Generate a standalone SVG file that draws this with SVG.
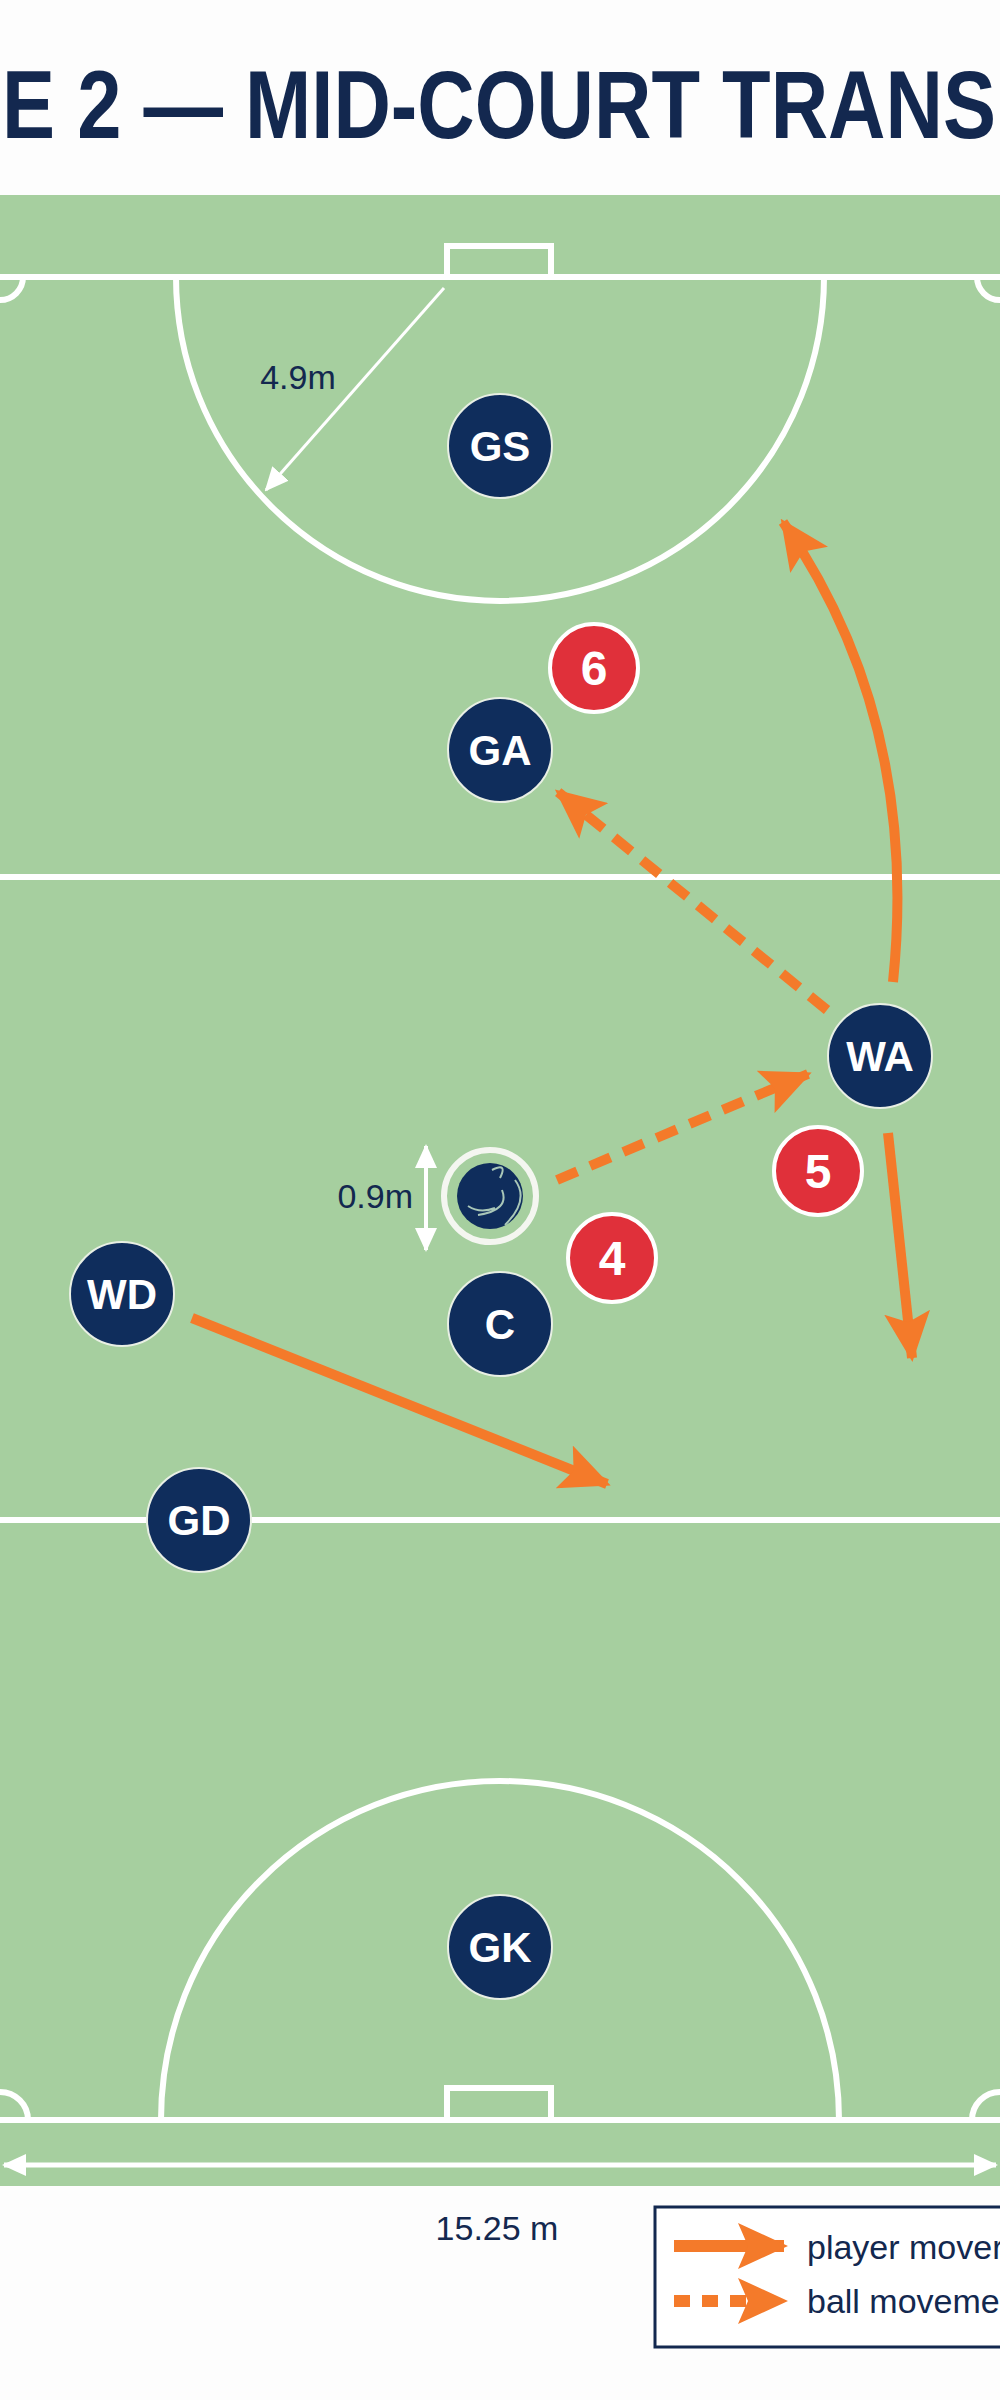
<svg xmlns="http://www.w3.org/2000/svg" width="1000" height="2400" viewBox="0 0 1000 2400">
<style>
.line{fill:none;stroke:#fff;stroke-width:6}
.pl{fill:#0f2d5c;stroke:#e8efe4;stroke-width:2}
.pt{font-family:"Liberation Sans",Arial,sans-serif;font-weight:bold;font-size:42px;fill:#fff;text-anchor:middle}
.bd{fill:#e0303a;stroke:#fff;stroke-width:4}
.bt{font-family:"Liberation Sans",Arial,sans-serif;font-weight:bold;font-size:48px;fill:#fff;text-anchor:middle}
.lab{font-family:"Liberation Sans",Arial,sans-serif;font-size:34px;fill:#13284f}
.mv{fill:none;stroke:#f47a2a;stroke-width:10}
.bl{fill:none;stroke:#f47a2a;stroke-width:10;stroke-dasharray:22 14}
</style>
<defs>
<marker id="ah" markerUnits="userSpaceOnUse" markerWidth="50" markerHeight="46" refX="46" refY="23" orient="auto"><path d="M0,0 L50,23 L0,46 L10,23 Z" fill="#f47a2a"/></marker>
<marker id="wh" markerUnits="userSpaceOnUse" markerWidth="24" markerHeight="22" refX="22" refY="11" orient="auto-start-reverse"><path d="M0,0 L24,11 L0,22 Z" fill="#fff"/></marker>
</defs>
<rect width="1000" height="2400" fill="#fdfdfd"/>
<text x="2" y="138" font-family="Liberation Sans,Arial,sans-serif" font-weight="bold" font-size="96" fill="#13284f" textLength="994" lengthAdjust="spacingAndGlyphs">E 2 — MID-COURT TRANS</text>
<g id="court">
<rect x="0" y="195" width="1000" height="1991" fill="#a6cf9f"/>
<line class="line" x1="0" y1="277" x2="1000" y2="277"/>
<rect class="line" x="447" y="246" width="104" height="31"/>
<path class="line" d="M176,277 A324,324 0 0 0 824,277"/>
<path class="line" d="M0,300 A23,23 0 0 0 23,277 M1000,300 A23,23 0 0 1 977,277"/>
<line class="line" x1="0" y1="877" x2="1000" y2="877"/>
<line class="line" x1="0" y1="1520" x2="1000" y2="1520"/>
<line class="line" x1="0" y1="2120" x2="1000" y2="2120"/>
<rect class="line" x="447" y="2088" width="104" height="32"/>
<path class="line" d="M161,2120 A339,339 0 0 1 839,2120"/>
<path class="line" d="M0,2092 A28,28 0 0 1 28,2120 M1000,2092 A28,28 0 0 0 972,2120"/>
<line x1="4" y1="2165" x2="996" y2="2165" stroke="#fff" stroke-width="5" marker-start="url(#wh)" marker-end="url(#wh)"/>
<line x1="444" y1="288" x2="266" y2="490" stroke="#fff" stroke-width="3" marker-end="url(#wh)"/>
<text class="lab" x="298" y="389" text-anchor="middle">4.9m</text>
<line x1="426" y1="1146" x2="426" y2="1250" stroke="#fff" stroke-width="4" marker-start="url(#wh)" marker-end="url(#wh)"/>
<text class="lab" x="413" y="1208" text-anchor="end">0.9m</text>
<text class="lab" x="497" y="2240" text-anchor="middle" font-size="40">15.25 m</text>
</g>
<g id="connectors">
<path class="mv" d="M893,982 Q920,720 783,522" marker-end="url(#ah)"/>
<path class="mv" d="M888,1133 L912,1358" marker-end="url(#ah)"/>
<path class="mv" d="M192,1318 L607,1484" marker-end="url(#ah)"/>
<path class="bl" d="M557,1180 L808,1074" marker-end="url(#ah)"/>
<path class="bl" d="M827,1010 L558,792" marker-end="url(#ah)"/>
</g>
<g id="ball">
<circle cx="490" cy="1196" r="46" fill="none" stroke="#f4f6f0" stroke-width="6"/>
<circle cx="490" cy="1196" r="33" fill="#0f2d5c"/>
<path d="M492,1170 Q508,1162 500,1178 M515,1180 Q530,1200 505,1225 M502,1190 Q510,1210 478,1215 M468,1206 Q480,1214 495,1208" fill="none" stroke="#a9c7b8" stroke-width="2"/>
</g>
<g id="GS"><circle class="pl" cx="500" cy="446" r="52"/><text class="pt" x="500" y="461">GS</text></g>
<g id="GA"><circle class="pl" cx="500" cy="750" r="52"/><text class="pt" x="500" y="765">GA</text></g>
<g id="WA"><circle class="pl" cx="880" cy="1056" r="52"/><text class="pt" x="880" y="1071">WA</text></g>
<g id="C"><circle class="pl" cx="500" cy="1324" r="52"/><text class="pt" x="500" y="1339">C</text></g>
<g id="WD"><circle class="pl" cx="122" cy="1294" r="52"/><text class="pt" x="122" y="1309">WD</text></g>
<g id="GD"><circle class="pl" cx="199" cy="1520" r="52"/><text class="pt" x="199" y="1535">GD</text></g>
<g id="GK"><circle class="pl" cx="500" cy="1947" r="52"/><text class="pt" x="500" y="1962">GK</text></g>
<g id="b6"><circle class="bd" cx="594" cy="668" r="44"/><text class="bt" x="594" y="685">6</text></g>
<g id="b5"><circle class="bd" cx="818" cy="1171" r="44"/><text class="bt" x="818" y="1188">5</text></g>
<g id="b4"><circle class="bd" cx="612" cy="1258" r="44"/><text class="bt" x="612" y="1275">4</text></g>
<g id="legend">
<rect x="655" y="2207" width="360" height="140" fill="#fff" stroke="#13284f" stroke-width="3"/>
<line x1="674" y1="2246" x2="784" y2="2246" stroke="#f47a2a" stroke-width="12" marker-end="url(#ah)"/>
<line x1="674" y1="2301" x2="784" y2="2301" stroke="#f47a2a" stroke-width="12" stroke-dasharray="16 12" marker-end="url(#ah)"/>
<text class="lab" x="807" y="2259" font-size="31">player mover</text>
<text class="lab" x="807" y="2313" font-size="31">ball moveme</text>
</g>
</svg>
